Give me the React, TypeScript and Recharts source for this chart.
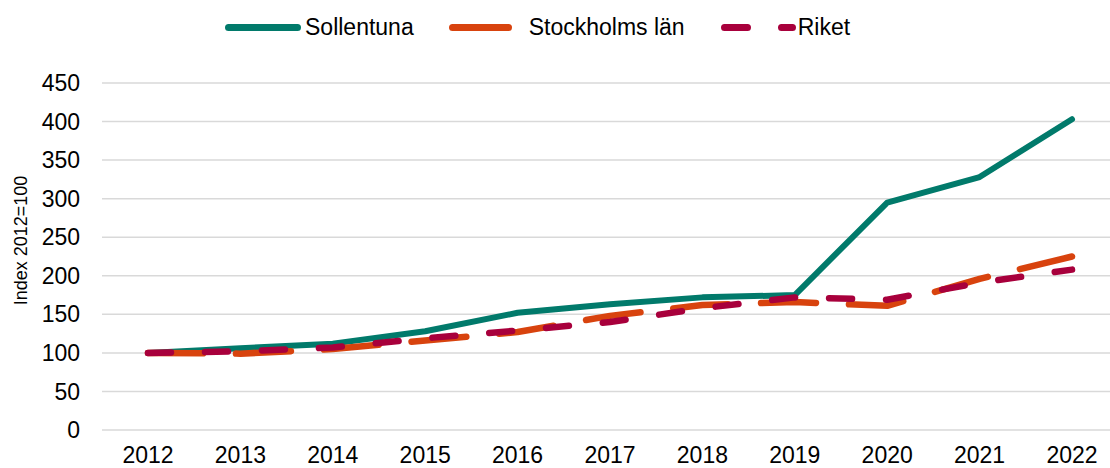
import { LineChart, Line, XAxis, YAxis, CartesianGrid } from "recharts";

const years = ["2012", "2013", "2014", "2015", "2016", "2017", "2018", "2019", "2020", "2021", "2022"];
const sollentuna = [100, 106, 112, 128, 152, 163, 172, 175, 295, 328, 403];
const stockholmsLan = [100, 99, 105, 116, 127, 148, 162, 166, 161, 196, 225];
const riket = [100, 102, 107, 119, 129, 140, 158, 172, 169, 191, 208];
const yTicks = [0, 50, 100, 150, 200, 250, 300, 350, 400, 450];

const data = years.map((year, i) => ({
  year,
  sollentuna: sollentuna[i],
  stockholm: stockholmsLan[i],
  riket: riket[i],
}));

const FONT = '"Liberation Sans", Arial, sans-serif';
const GREEN = "#017a6b";
const ORANGE = "#d8430e";
const RED = "#a8003c";
const ORANGE_DASH = "55 33";
const RED_DASH = "23 34";

const LegendIcon = ({ width, color, dash }: { width: number; color: string; dash?: string }) => (
  <svg width={width} height={23} style={{ display: "block" }}>
    <line
      x1={3.5}
      y1={11.5}
      x2={width - 3.5}
      y2={11.5}
      stroke={color}
      strokeWidth={7}
      strokeLinecap="round"
      strokeDasharray={dash}
    />
  </svg>
);

const YLabel = ({ viewBox }: any) => {
  const x = viewBox.x + 21;
  const y = viewBox.y + viewBox.height / 2 - 16;
  return (
    <text
      x={x}
      y={y}
      transform={`rotate(-90, ${x}, ${y})`}
      textAnchor="middle"
      dominantBaseline="central"
      fontSize={18}
      fontFamily={FONT}
      fill="#000"
    >
      Index 2012=100
    </text>
  );
};

export default function App() {
  return (
    <div
      style={{
        position: "absolute",
        left: 0,
        top: 0,
        width: 1110,
        height: 468,
        overflow: "hidden",
        background: "#fff",
        fontFamily: FONT,
      }}
    >
      {/* legend */}
      <div
        style={{
          position: "absolute",
          top: 15.5,
          left: 225,
          display: "flex",
          alignItems: "center",
          fontSize: 23,
          lineHeight: "23px",
          color: "#000",
        }}
      >
        <LegendIcon width={76} color={GREEN} />
        <span style={{ marginLeft: 4 }}>Sollentuna</span>
        <span style={{ marginLeft: 35 }}>
          <LegendIcon width={63} color={ORANGE} />
        </span>
        <span style={{ marginLeft: 17 }}>Stockholms län</span>
        <span style={{ marginLeft: 36 }}>
          <LegendIcon width={75} color={RED} dash={RED_DASH} />
        </span>
        <span style={{ marginLeft: 2 }}>Riket</span>
      </div>

      <LineChart
        width={1118}
        height={468}
        data={data}
        margin={{ top: 83, right: 0, bottom: 8, left: 0 }}
      >
        <CartesianGrid vertical={false} stroke="#d9d9d9" strokeWidth={1.5} />
        <XAxis
          dataKey="year"
          axisLine={false}
          tickLine={false}
          height={30}
          padding={{ left: 46, right: 46 }}
          tickMargin={10.5}
          tick={{ fontSize: 23, fill: "#000", fontFamily: FONT }}
        />
        <YAxis
          domain={[0, 450]}
          ticks={yTicks}
          width={102}
          axisLine={false}
          tickLine={false}
          tickMargin={16}
          tick={{ fontSize: 23, fill: "#000", fontFamily: FONT }}
          label={<YLabel />}
        />
        <Line
          type="linear"
          dataKey="sollentuna"
          name="Sollentuna"
          stroke={GREEN}
          strokeWidth={6}
          strokeLinecap="round"
          strokeLinejoin="round"
          dot={false}
          activeDot={false}
          isAnimationActive={false}
        />
        <Line
          type="linear"
          dataKey="stockholm"
          name="Stockholms län"
          stroke={ORANGE}
          strokeWidth={6.5}
          strokeDasharray={ORANGE_DASH}
          strokeLinecap="round"
          strokeLinejoin="round"
          dot={false}
          activeDot={false}
          isAnimationActive={false}
        />
        <Line
          type="linear"
          dataKey="riket"
          name="Riket"
          stroke={RED}
          strokeWidth={6.5}
          strokeDasharray={RED_DASH}
          strokeLinecap="round"
          strokeLinejoin="round"
          dot={false}
          activeDot={false}
          isAnimationActive={false}
        />
      </LineChart>
    </div>
  );
}
